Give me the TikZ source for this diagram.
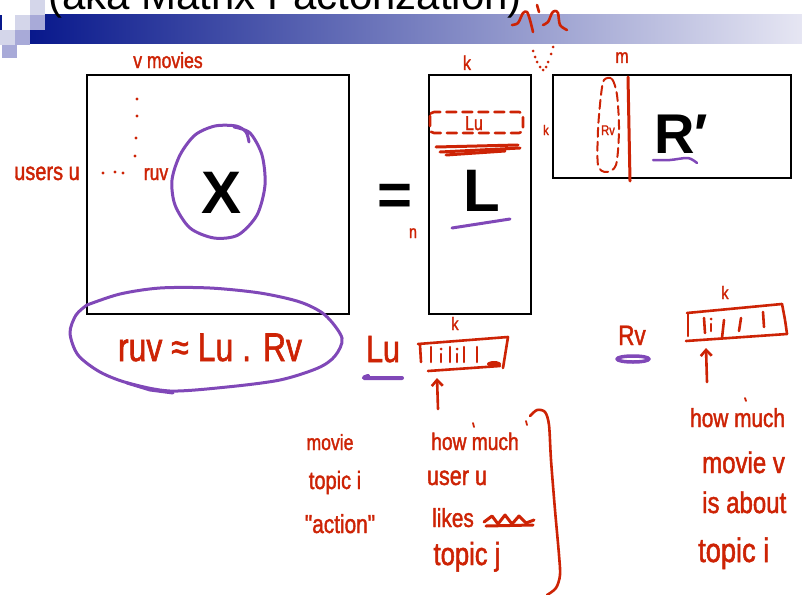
\documentclass[tikz,border=0pt]{standalone}
\usepackage{fontspec}
\usetikzlibrary{arrows.meta}
\newfontfamily\handfont[FakeStretch=0.8,FakeBold=1.5]{Liberation Sans}
\newfontfamily\slidefont{Liberation Sans}
\newcommand\hfs[1]{\handfont\fontsize{#1}{#1}\selectfont}
\newcommand\sfs[1]{\slidefont\fontsize{#1}{#1}\selectfont}
\definecolor{penred}{RGB}{205,35,5}
\definecolor{penpurple}{RGB}{128,72,184}
\definecolor{barL}{RGB}{8,24,140}
\definecolor{barR}{RGB}{230,230,243}
\definecolor{sqlight}{RGB}{212,214,234}
\definecolor{sqmed}{RGB}{168,170,216}
\tikzset{
  mbox/.style={draw=black, line width=2.6pt, inner sep=0pt},
  pen/.style={draw=penred, line width=2.6pt, line cap=round, line join=round},
  ppen/.style={draw=penpurple, line width=3pt, line cap=round, line join=round},
  hand/.style={text=penred, inner sep=0pt, anchor=base},
  bigl/.style={inner sep=0pt, anchor=base},
  uparrow/.style={pen, -{Straight Barb[length=6pt,width=11pt]}},
}
\begin{document}
\begin{tikzpicture}[x=1pt,y=-1pt]
\useasboundingbox (0,0) rectangle (802,594);
\clip (0,0) rectangle (802,594);
\fill[white] (0,0) rectangle (802,594);
% title bar
\shade[left color=barL,right color=barR] (30,15) rectangle (802,44);
\fill[barL] (0,15) rectangle (2,30);
\fill[sqlight] (30,0) rectangle (45,15);
\fill[sqlight] (15,15) rectangle (30,30);
\fill[sqmed] (30,15) rectangle (45,30);
\fill[sqlight] (0,30) rectangle (15,45);
\fill[sqmed] (15,30) rectangle (30,45);
\fill[sqmed] (2,45) rectangle (17,58);
\node[anchor=base west, inner sep=0pt, font=\sfs{42}] (title) at (48,10) {(aka Matrix Factorization)};

% matrices
\node[mbox, minimum width=262, minimum height=239] (Xbox) at (218,194.5) {};
\node[mbox, minimum width=102, minimum height=239] (Lbox) at (480,194.5) {};
\node[mbox, minimum width=238, minimum height=103] (Rbox) at (672,126.5) {};
\node[bigl, font={\sfs{60}\bfseries}] (X) at (222,213) {X};
\node[bigl, font={\sfs{60}\bfseries}] (eq) at (395,215) {=};
\node[bigl, font={\sfs{60}\bfseries}] (L) at (482,211) {L};
\node[bigl, anchor=base west, font={\sfs{56}\bfseries}] (R) at (654,153) {R\char"2032};

% purple marks
\draw[ppen] plot[smooth] coordinates {(234,127) (250,133) (262,155) (265,185) (257,215) (238,235) (214,238) (190,228) (175,205) (172,180) (180,155) (195,135) (215,126) (236,126) (246,132) (249,142)};
\draw[ppen] (452,228) -- (510,219);
\draw[ppen, line width=2.5pt] plot[smooth] coordinates {(653,160) (670,160) (688,158) (697,163)};
\draw[ppen] plot[smooth] coordinates {(87,305) (120,294) (160,288) (210,288) (260,293) (300,302) (325,315) (342,338) (335,356) (318,368) (280,380) (227,387) (170,391) (128,383) (100,372) (78,355) (70,333) (76,315) (87,305)};
\draw[ppen] (127,383) -- (150,390) -- (173,393);
\draw[ppen, line width=4pt] plot[smooth] coordinates {(368,376) (364,378) (380,378) (402,378)};
\draw[ppen, line width=3.5pt] (633,359) ellipse [x radius=16, y radius=3];

% red annotations on matrices
\node[hand, font=\hfs{22}] (vmovies) at (168,68) {v movies};
\node[hand, font=\hfs{20}] (kL) at (467,70) {k};
\node[hand, font=\hfs{20}] (mR) at (622,63) {m};
\node[hand, font=\hfs{25}] (users) at (47,180) {users u};
\node[hand, font=\hfs{22}] (ruv) at (156,180) {ruv};
\node[hand, font=\hfs{18}] (nL) at (413,238) {n};
\foreach \p in {(137,99),(137,116),(136,138),(135,156),(103,173),(115,172),(123,173)}
  \fill[penred] \p circle (1.6);
\node[hand, font=\hfs{20}] (Lu1) at (474,130) {Lu};
\draw[pen, dash pattern=on 10pt off 6pt, rounded corners=4] (430,112) rectangle (523,133);
\draw[pen, line width=3pt] (436,147) -- (518,145);
\draw[pen, line width=3pt] (440,152) -- (520,148);
\draw[pen, line width=3pt] (446,155) -- (505,151);
\node[hand, font=\hfs{14}] (kc) at (546,135) {k};
\node[hand, font=\hfs{14}] (Rv1) at (608,135) {Rv};
\draw[pen, line width=2pt, dash pattern=on 9pt off 5pt] plot[smooth cycle] coordinates {(604,80) (612,79) (617,95) (619,130) (616,165) (606,172) (598,165) (598,130) (601,95)};
\draw[pen, line width=3pt] (628,77) -- (630,181);

% top scribble
\draw[pen] plot[smooth] coordinates {(512,25) (518,23) (523,13) (527,12) (530,20) (533,32)};
\draw[pen] (537,5) -- (539,12);
\draw[pen] plot[smooth] coordinates {(543,25) (548,22) (552,13) (555,11) (558,13) (560,25) (567,30)};
\foreach \p in {(533,51),(535,57),(537,62),(540,67),(543,70),(553,47),(551,54),(548,62),(546,67)}
  \fill[penred] \p circle (1.5);

% formula
\node[hand, font=\hfs{40}] (formula) at (210,361) {ruv ≈ Lu . Rv};

% Lu vector
\node[hand, font=\hfs{38}] (Lu) at (383,362) {Lu};
\node[hand, font=\hfs{18}] (kv1) at (455,330) {k};
\draw[pen] (418,344) -- (508,337) -- (503,368);
\draw[pen] (420,345) -- (421,362);
\draw[pen] (428,371) -- (500,366);
\foreach \x in {431,450,464,477} \draw[pen] (\x,347) -- (\x,362);
\foreach \x in {441,457} {\draw[pen] (\x,354) -- (\x,362); \fill[penred] (\x,349) circle (1.5);}
\fill[penred] (494,364) ellipse [x radius=7, y radius=3];
\coordinate (a1s) at (438,409);
\coordinate (a1e) at (437,378);
\draw[uparrow] (a1s) -- (a1e);

% left explanation
\node[hand, font=\hfs{22}] (movie) at (330,450) {movie};
\node[hand, font=\hfs{25}] (topici) at (335,489) {topic i};
\node[hand, font=\hfs{26}] (action) at (340,533) {"action"};
\node[hand, font=\hfs{24}] (howmuch) at (475,450) {how much};
\draw[pen, line width=1.8pt] (473,423) -- (474,427);
\draw[pen, line width=1.8pt] (526,421) -- (527,425);
\node[hand, font=\hfs{27}] (useru) at (457,485) {user u};
\node[hand, font=\hfs{26}] (likes) at (453,527) {likes};
\draw[pen, line width=3pt] plot coordinates {(484,522) (492,516) (498,524) (505,515) (512,524) (519,516) (526,523) (534,520)};
\draw[pen, line width=3pt] (486,526) -- (533,525);
\node[hand, font=\hfs{32}] (topicj) at (467,565) {topic j};
\draw[pen] plot[smooth] coordinates {(530,416) (537,410) (545,412) (549,425) (551,460) (555,510) (559,555) (560,575) (556,588) (547,595)};

% Rv vector
\node[hand, font=\hfs{28}] (Rv) at (632,345) {Rv};
\node[hand, font=\hfs{18}] (kv2) at (725,299) {k};
\draw[pen] (687,313) -- (782,304);
\draw[pen] plot[smooth] coordinates {(782,304) (785,320) (787,334)};
\draw[pen] (686,341) -- (787,334);
\draw[pen] (688,313) -- (688,336);
\draw[pen] (704,318) -- (705,333);
\draw[pen] (711,324) -- (711,331); \fill[penred] (711,319) circle (1.5);
\draw[pen] (724,320) -- (722,338);
\draw[pen] (741,318) -- (739,331);
\draw[pen] (763,312) -- (764,327);
\coordinate (a2s) at (707,382);
\coordinate (a2e) at (706,348);
\draw[uparrow] (a2s) -- (a2e);

% right explanation
\node[hand, anchor=base west, font=\hfs{26}] (howmuch2) at (690,427) {how much};
\draw[pen, line width=1.8pt] (745,398) -- (746,401);
\node[hand, anchor=base west, font=\hfs{30}] (moviev) at (702,473) {movie v};
\node[hand, anchor=base west, font=\hfs{30}] (isabout) at (702,513) {is about};
\node[hand, anchor=base west, font=\hfs{34}] (topici2) at (698,562) {topic i};
\end{tikzpicture}
\end{document}
